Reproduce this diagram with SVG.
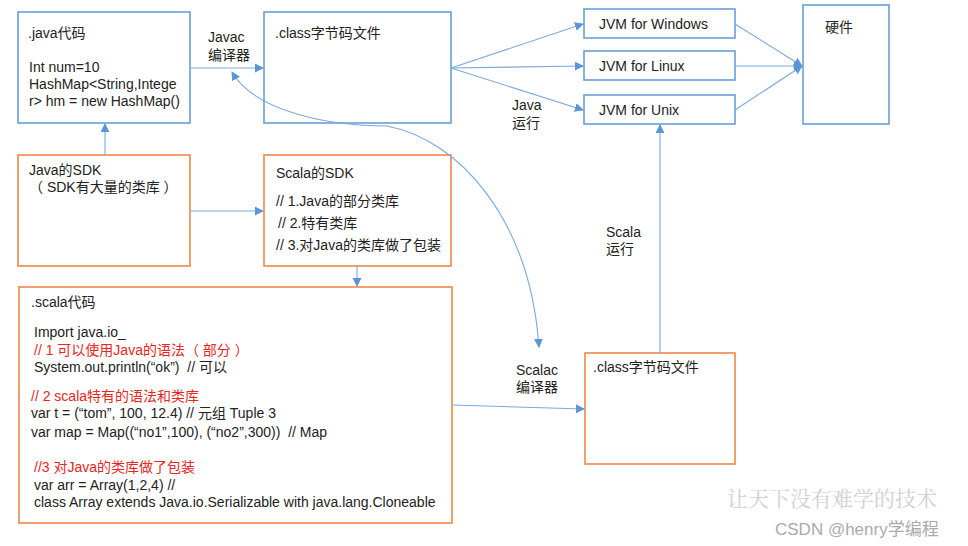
<svg xmlns="http://www.w3.org/2000/svg" width="968" height="546" viewBox="0 0 968 546">
<defs>
<style>
text{font-family:"Liberation Sans","Noto Sans CJK SC",sans-serif;font-size:14px;fill:#222;white-space:pre}
.b{fill:#fff;stroke:#6a9fd8;stroke-width:1.6}
.o{fill:#fff;stroke:#f0955c;stroke-width:1.8}
.c{fill:none;stroke:#7aa9dc;stroke-width:1.1;marker-end:url(#ah)}
.r{fill:#e8261d}
</style>
<marker id="ah" viewBox="0 0 10 10" refX="9" refY="5" markerWidth="9" markerHeight="9" markerUnits="userSpaceOnUse" orient="auto-start-reverse">
<path d="M0,0 L10,5 L0,10 z" fill="#5b95d6"/>
</marker>
</defs>
<rect width="968" height="546" fill="#fff"/>

<g id="java-code">
<rect class="b" x="18" y="12" width="172" height="111"/>
<text x="28" y="38">.java代码</text>
<text x="29" y="72">Int num=10</text>
<text x="29" y="89">HashMap&lt;String,Intege</text>
<text x="29" y="106">r&gt; hm = new HashMap()</text>
</g>

<g id="class-file">
<rect class="b" x="264" y="12" width="187" height="111"/>
<text x="275" y="38">.class字节码文件</text>
</g>

<g id="jvm-windows">
<rect class="b" x="584" y="9" width="151" height="29"/>
<text x="599" y="29">JVM for Windows</text>
</g>
<g id="jvm-linux">
<rect class="b" x="584" y="51" width="151" height="29"/>
<text x="599" y="71">JVM for Linux</text>
</g>
<g id="jvm-unix">
<rect class="b" x="584" y="95" width="151" height="29"/>
<text x="599" y="115">JVM for Unix</text>
</g>

<g id="hardware">
<rect class="b" x="803" y="5" width="86" height="119"/>
<text x="825" y="32">硬件</text>
</g>

<g id="java-sdk">
<rect class="o" x="18" y="155" width="172" height="111"/>
<text x="29" y="175">Java的SDK</text>
<text x="29" y="192">（ SDK有大量的类库 ）</text>
</g>

<g id="scala-sdk">
<rect class="o" x="264" y="155" width="187" height="111"/>
<text x="276" y="178">Scala的SDK</text>
<text x="276" y="206">// 1.Java的部分类库</text>
<text x="278" y="228">// 2.特有类库</text>
<text x="276" y="250">// 3.对Java的类库做了包装</text>
</g>

<g id="scala-code">
<rect class="o" x="19" y="287" width="433" height="236"/>
<text x="31" y="307">.scala代码</text>
<text x="34" y="337">Import java.io_</text>
<text x="34" y="355" class="r">// 1 可以使用Java的语法（ 部分 ）</text>
<text x="34" y="372">System.out.println(“ok”)  // 可以</text>
<text x="31" y="401" class="r">// 2 scala特有的语法和类库</text>
<text x="31" y="418">var t = (“tom”, 100, 12.4) // 元组 Tuple 3</text>
<text x="31" y="437">var map = Map((“no1”,100), (“no2”,300))  // Map</text>
<text x="34" y="472" class="r">//3 对Java的类库做了包装</text>
<text x="34" y="490">var arr = Array(1,2,4) //</text>
<text x="34" y="507">class Array extends Java.io.Serializable with java.lang.Cloneable</text>
</g>

<g id="scala-class-file">
<rect class="o" x="585" y="353" width="150" height="111"/>
<text x="593" y="372">.class字节码文件</text>
</g>

<g id="connectors">
<path class="c" d="M190,68 H263"/>
<path class="c" d="M105,155 V124"/>
<path class="c" d="M190,211 H263"/>
<path class="c" d="M357,266 V286"/>
<path class="c" d="M451,68 L583,24"/>
<path class="c" d="M451,68 L583,66"/>
<path class="c" d="M451,68 L583,110"/>
<path class="c" d="M735,24 L802,66"/>
<path class="c" d="M735,66 L802,66"/>
<path class="c" d="M735,110 L802,66"/>
<path class="c" d="M660,353 V125"/>
<path class="c" d="M452,405 L584,409"/>
<path class="c" style="marker-start:url(#ah)" d="M232,72 C255,112 330,126 387,126 C460,140 530,220 539,347"/>
</g>

<g id="labels">
<text x="208" y="42">Javac</text>
<text x="208" y="60">编译器</text>
<text x="512" y="110">Java</text>
<text x="512" y="128">运行</text>
<text x="606" y="237">Scala</text>
<text x="606" y="254">运行</text>
<text x="516" y="375">Scalac</text>
<text x="516" y="392">编译器</text>
</g>

<g id="watermark">
<text x="727" y="506" style="font-size:21px;font-family:'Noto Serif CJK SC','Noto Sans CJK SC',serif;fill:#d0d0d0">让天下没有难学的技术</text>
<text x="775" y="535" style="font-size:17px;fill:#aaa">CSDN @henry学编程</text>
</g>
</svg>
